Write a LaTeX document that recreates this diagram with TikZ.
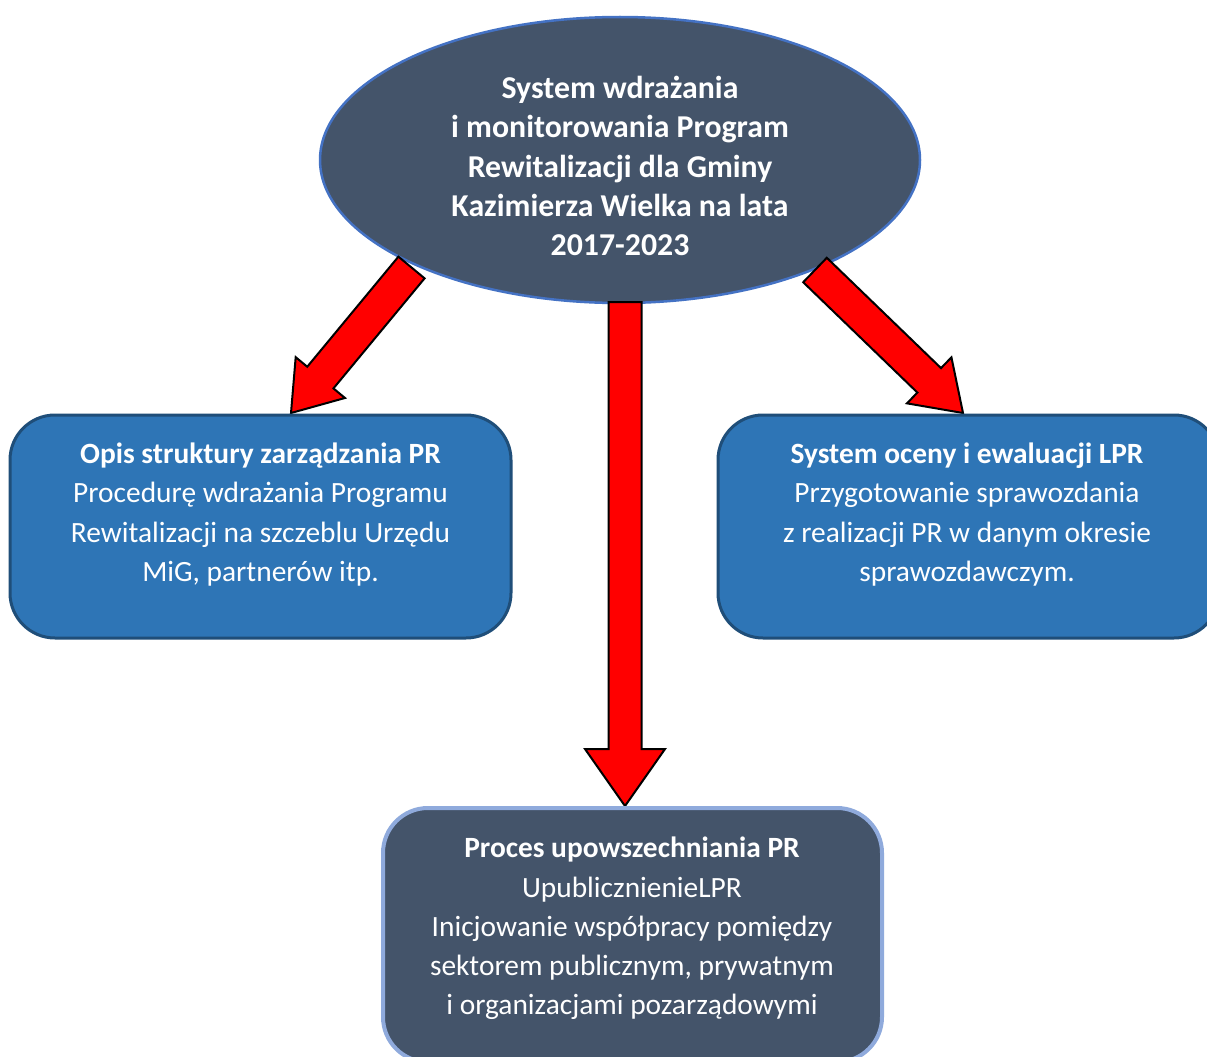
\documentclass[tikz,border=0pt]{standalone}
\usepackage{fontspec}
\setmainfont{Carlito}
\usetikzlibrary{shapes.geometric,calc}
\definecolor{slate}{HTML}{44546A}
\definecolor{elborder}{HTML}{4472C4}
\definecolor{boxblue}{HTML}{2E75B6}
\definecolor{boxborder}{HTML}{1F4E79}
\definecolor{lightborder}{HTML}{8FAADC}
\definecolor{arrred}{HTML}{FF0000}
\tikzset{
  mainell/.style={ellipse, fill=slate, draw=elborder, line width=2.5pt, minimum width=600pt, minimum height=286pt, inner sep=0pt},
  bluebox/.style={rectangle, rounded corners=45pt, fill=boxblue, draw=boxborder, line width=3pt, minimum width=501pt, minimum height=223pt, inner sep=0pt},
  slatebox/.style={rectangle, rounded corners=45pt, fill=slate, draw=lightborder, line width=4pt, minimum width=499pt, minimum height=254pt, inner sep=0pt},
  txt/.style={text=white, align=center, font=\fontsize{29.4pt}{39.2pt}\selectfont, inner sep=0pt},
  blockarrow/.style={fill=arrred, draw=black, line width=2pt, line join=miter},
}
\newcommand\blockarr[5]{%
  \coordinate (ba-h) at ($(#2)!#5!(#1)$);
  \draw[blockarrow] ($(#1)!#3!90:(#2)$) -- ($(ba-h)!#3!90:(#2)$) -- ($(ba-h)!#4!90:(#2)$)
    -- (#2) -- ($(ba-h)!#4!-90:(#2)$) -- ($(ba-h)!#3!-90:(#2)$) -- ($(#1)!#3!-90:(#2)$) -- cycle;
}
\begin{document}
\begin{tikzpicture}[x=1pt,y=-1pt]
\useasboundingbox (0,0) rectangle (1207,1057);
\clip (0,0) rectangle (1207,1057);
\fill[white] (0,0) rectangle (1207,1057);

\coordinate (sL) at (411.5,267.5);
\coordinate (tL) at (291,413);
\coordinate (sR) at (815,270);
\coordinate (tR) at (963,413);
\coordinate (sC) at (625,302);
\coordinate (tC) at (625,806);

\node[mainell] (top) at (620,160) {};
\blockarr{sL}{tL}{17pt}{32pt}{46pt}
\blockarr{sR}{tR}{17pt}{32pt}{47pt}
\blockarr{sC}{tC}{16.5pt}{40pt}{57pt}

\node[txt, font=\fontsize{31.8pt}{39.2pt}\selectfont\bfseries] (toptxt) at (620,166)
  {System wdrażania\\i monitorowania Program\\Rewitalizacji dla Gminy\\Kazimierza Wielka na lata\\2017-2023};

\node[bluebox] (left) at (260.5,526.5) {};
\node[txt] (lefttxt) at (260.5,514.5)
  {\textbf{Opis struktury zarządzania PR}\\Procedurę wdrażania Programu\\Rewitalizacji na szczeblu Urzędu\\MiG, partnerów itp.};

\node[bluebox] (right) at (968.5,526.5) {};
\node[txt] (righttxt) at (967,514.5)
  {\textbf{System oceny i ewaluacji LPR}\\Przygotowanie sprawozdania\\z realizacji PR w danym okresie\\sprawozdawczym.};

\node[slatebox] (bottom) at (632.5,935) {};
\node[txt] (bottomtxt) at (632,928.5)
  {\textbf{Proces upowszechniania PR}\\UpublicznienieLPR\\Inicjowanie współpracy pomiędzy\\sektorem publicznym, prywatnym\\i organizacjami pozarządowymi};
\end{tikzpicture}
\end{document}
